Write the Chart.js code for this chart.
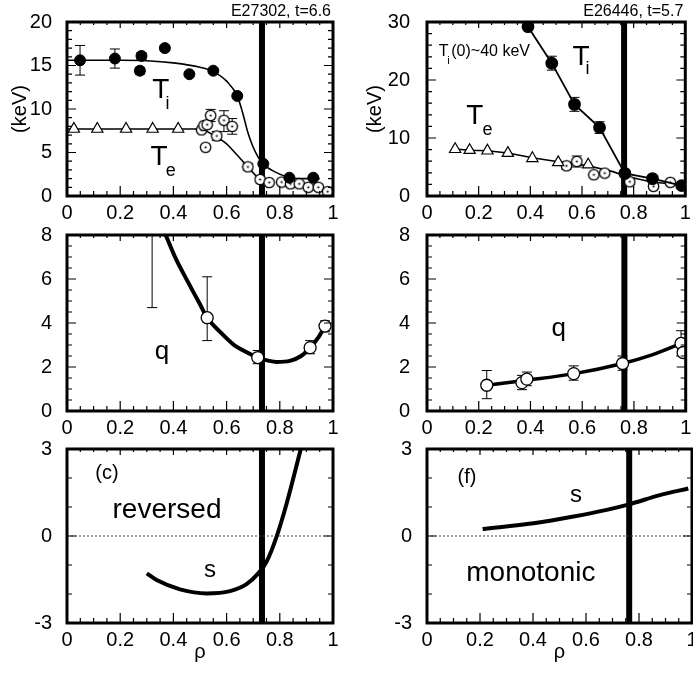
<!DOCTYPE html>
<html>
<head>
<meta charset="utf-8">
<script src="https://cdn.jsdelivr.net/npm/chart.js@4.4.1/dist/chart.umd.min.js"></script>
<style>
  body { margin: 0; background: #fff; }
  canvas { position: absolute; }
</style>
</head>
<body>
<canvas id="panelA" width="345" height="232" style="left:0;top:0"></canvas>
<canvas id="panelB" width="348" height="232" style="left:345px;top:0"></canvas>
<canvas id="panelC" width="345" height="218" style="left:0;top:222px"></canvas>
<canvas id="panelD" width="348" height="218" style="left:345px;top:222px"></canvas>
<canvas id="panelE" width="345" height="242" style="left:0;top:432px"></canvas>
<canvas id="panelF" width="348" height="242" style="left:345px;top:432px"></canvas>
<script>
const FONT = '"Liberation Sans", Arial, Helvetica, sans-serif';
Chart.defaults.font.family = FONT;
Chart.defaults.color = '#000';

// tick labels
const rhoTicks = [0, 0.2, 0.4, 0.6, 0.8, 1];
const tempTicksA = [0, 5, 10, 15, 20];
const tempTicksB = [0, 10, 20, 30];
const qTicks = [0, 2, 4, 6, 8];
const shearTicks = [-3, 0, 3];

// position of the thick vertical marker (ITB foot)
const markLeft = 0.733;
const markRight = 0.763;

// (a) E27302, t=6.6
const aTiRho = [0.049, 0.18, 0.28, 0.274, 0.368, 0.46, 0.55, 0.64, 0.738, 0.836, 0.926];
const aTiVal = [15.6, 15.8, 16.1, 14.4, 17.0, 14.0, 14.4, 11.5, 3.7, 2.1, 2.1];
const aTiLo = [13.9, 14.7, 15.7, 14.0, 16.7, 14.0, 14.4, 11.5, 3.7, 2.1, 2.1];
const aTiHi = [17.3, 16.9, 16.5, 14.8, 17.3, 14.0, 14.4, 11.5, 3.7, 2.1, 2.1];
const aTiFitRho = [0, 0.2, 0.3, 0.4, 0.5, 0.55, 0.6, 0.64, 0.66, 0.68, 0.7, 0.72, 0.74, 0.78, 0.84, 0.9, 0.95];
const aTiFitVal = [15.6, 15.6, 15.55, 15.3, 14.8, 14.3, 13.2, 11.5, 9.6, 7.3, 5.6, 4.4, 3.6, 2.8, 2.1, 2.0, 2.0];
const aTeTriRho = [0.026, 0.114, 0.222, 0.322, 0.418];
const aTeTriVal = [7.7, 7.7, 7.7, 7.7, 7.7];
const aTeRho = [0.506, 0.515, 0.527, 0.521, 0.54, 0.563, 0.59, 0.621, 0.68, 0.726, 0.76, 0.807, 0.84, 0.873, 0.907, 0.945, 0.98];
const aTeVal = [7.6, 8.1, 8.2, 5.6, 9.25, 6.9, 8.7, 8.0, 3.35, 1.9, 1.55, 1.6, 1.4, 1.4, 1.0, 1.0, 0.5];
const aTeLo = [7.6, 8.1, 8.2, 5.6, 8.55, 6.4, 7.4, 7.1, 3.0, 1.9, 1.55, 1.6, 1.4, 1.4, 1.0, 1.0, 0.5];
const aTeHi = [7.6, 8.1, 8.2, 5.6, 9.95, 7.4, 9.8, 8.9, 3.7, 1.9, 1.55, 1.6, 1.4, 1.4, 1.0, 1.0, 0.5];
const aTeFitRho = [0, 0.2, 0.4, 0.5, 0.55, 0.6, 0.625, 0.68, 0.726, 0.76];
const aTeFitVal = [7.7, 7.7, 7.7, 7.7, 7.0, 6.0, 5.2, 3.35, 1.9, 1.6];

// (b) E26446, t=5.7
const bTiRho = [0.391, 0.483, 0.571, 0.668, 0.766, 0.873, 0.986];
const bTiVal = [29.2, 22.9, 15.8, 11.8, 3.9, 3.0, 1.8];
const bTiLo = [28.7, 21.7, 14.6, 10.8, 3.4, 2.5, 1.8];
const bTiHi = [29.7, 24.1, 17.0, 12.8, 4.4, 3.5, 1.8];
const bTeTriRho = [0.109, 0.165, 0.234, 0.313, 0.408, 0.508, 0.624];
const bTeTriVal = [8.06, 7.9, 7.8, 7.4, 6.5, 5.8, 5.4];
const bTeRho = [0.54, 0.58, 0.646, 0.688, 0.785, 0.877, 0.942];
const bTeVal = [5.2, 5.95, 3.66, 3.95, 2.45, 1.66, 2.35];
const bTeLo = [4.6, 5.0, 3.66, 3.95, 2.0, 1.66, 2.35];
const bTeHi = [5.8, 6.9, 3.66, 3.95, 2.9, 1.66, 2.35];
const bTeFitRho = [0.109, 0.165, 0.234, 0.313, 0.408, 0.508, 0.624, 0.72, 0.77, 0.87, 0.99];
const bTeFitVal = [8.1, 7.9, 7.8, 7.4, 6.6, 5.9, 5.2, 4.2, 3.4, 2.4, 1.9];

// q, reversed shear case
const cQRho = [0.527, 0.717, 0.914, 0.97];
const cQVal = [4.24, 2.43, 2.88, 3.86];
const cQLo = [3.2, 2.15, 2.6, 3.6];
const cQHi = [6.1, 2.75, 3.2, 4.1];
const cQBarRho = [0.32];
const cQBarLo = [4.7];
const cQBarHi = [8];
const cQFitRho = [0.371, 0.41, 0.45, 0.5, 0.527, 0.575, 0.625, 0.67, 0.717, 0.76, 0.788, 0.838, 0.88, 0.914, 0.945, 0.97];
const cQFitVal = [8, 6.9, 5.97, 4.85, 4.24, 3.6, 3.03, 2.7, 2.43, 2.28, 2.23, 2.28, 2.5, 2.88, 3.35, 3.86];

// q, monotonic case
const dQRho = [0.231, 0.367, 0.386, 0.567, 0.756, 0.982, 0.99];
const dQVal = [1.17, 1.29, 1.45, 1.7, 2.16, 3.07, 2.66];
const dQLo = [0.56, 0.97, 1.15, 1.4, 1.85, 2.5, 2.66];
const dQHi = [1.84, 1.62, 1.77, 2.05, 2.5, 3.65, 2.66];
const dQFitRho = [0.231, 0.37, 0.57, 0.756, 0.87, 1.0];
const dQFitVal = [1.17, 1.38, 1.7, 2.16, 2.55, 3.15];

// (c) / (f) magnetic shear s
const eSRho = [0.3, 0.337, 0.425, 0.525, 0.613, 0.675, 0.719, 0.75, 0.788, 0.826, 0.876, 0.9];
const eSVal = [-1.29, -1.52, -1.84, -1.98, -1.9, -1.66, -1.29, -0.89, -0.02, 1.13, 2.9, 3.8];
const fSRho = [0.21, 0.402, 0.553, 0.678, 0.766, 0.879, 0.986];
const fSVal = [0.24, 0.44, 0.67, 0.9, 1.1, 1.41, 1.64];
const zeroRho = [0, 1];
const zeroVal = [0, 0];

function pts(xs, ys) { return xs.map((x, i) => ({ x: x, y: ys[i] })); }

function dotCircle() {
  const c = document.createElement('canvas');
  c.width = 13; c.height = 13;
  const g = c.getContext('2d');
  g.beginPath(); g.arc(6.5, 6.5, 5.2, 0, Math.PI * 2);
  g.fillStyle = '#fff'; g.fill();
  g.lineWidth = 1.3; g.strokeStyle = '#000'; g.stroke();
  g.beginPath(); g.arc(6.5, 6.5, 1.1, 0, Math.PI * 2);
  g.fillStyle = '#000'; g.fill();
  return c;
}
const dotImg = dotCircle();

function markLine(rho, ticks) {
  return { data: pts([rho, rho], [ticks[0], ticks[ticks.length - 1]]), showLine: true,
    borderColor: '#000', borderWidth: 6, pointRadius: 0, order: 10 };
}
function curve(xs, ys, w, smooth) {
  return { data: pts(xs, ys), showLine: true, borderColor: '#000', borderWidth: w,
    pointRadius: 0, cubicInterpolationMode: smooth ? 'monotone' : 'default', tension: 0, order: 5 };
}
function zeroLine() {
  return { data: pts(zeroRho, zeroVal), showLine: true, borderColor: '#444', borderWidth: 1,
    borderDash: [2, 2], pointRadius: 0, order: 9 };
}
const filled = { pointStyle: 'circle', pointRadius: 5.5, pointBackgroundColor: '#000', pointBorderColor: '#000', order: 0 };
const openDot = { pointStyle: dotImg, pointRadius: 6, order: 1 };
const openCircle = { pointStyle: 'circle', pointRadius: 6, pointBackgroundColor: '#fff', pointBorderColor: '#000', pointBorderWidth: 1.3, order: 1 };
const triangle = { pointStyle: 'triangle', pointRadius: 6.5, pointBackgroundColor: '#fff', pointBorderColor: '#000', pointBorderWidth: 1.2, order: 1 };

function tickSet(min, max, step) {
  const out = [];
  const n = Math.round((max - min) / step);
  for (let i = 0; i <= n; i++) out.push(min + i * step);
  return out;
}
function isMajor(v, major) { return Math.abs(v / major - Math.round(v / major)) < 1e-6; }

const panelDecor = {
  id: 'panelDecor',
  beforeDatasetsDraw(chart) {
    const { ctx, chartArea: a } = chart;
    const xs = chart.scales.x, ys = chart.scales.y;
    ctx.save();
    ctx.beginPath(); ctx.rect(a.left, a.top, a.right - a.left, a.bottom - a.top); ctx.clip();
    ctx.strokeStyle = '#000'; ctx.lineWidth = 1;
    chart.data.datasets.forEach(ds => {
      if (!ds.errLo) return;
      ds.data.forEach((p, j) => {
        const lo = ds.errLo[j], hi = ds.errHi[j];
        if (lo === hi) return;
        const x = xs.getPixelForValue(p.x);
        const y1 = ys.getPixelForValue(lo), y2 = ys.getPixelForValue(hi);
        ctx.beginPath();
        ctx.moveTo(x, y1); ctx.lineTo(x, y2);
        ctx.moveTo(x - 5, y1); ctx.lineTo(x + 5, y1);
        ctx.moveTo(x - 5, y2); ctx.lineTo(x + 5, y2);
        ctx.stroke();
      });
    });
    ctx.restore();
  },
  afterDraw(chart, args, opts) {
    const { ctx, chartArea: a } = chart;
    const xs = chart.scales.x, ys = chart.scales.y;
    ctx.save();
    ctx.strokeStyle = '#000';
    ctx.lineWidth = 1.2;
    ctx.beginPath();
    tickSet(0, 1, 0.05).forEach(v => {
      const px = xs.getPixelForValue(v);
      const len = isMajor(v, 0.2) ? 10 : 5;
      ctx.moveTo(px, a.bottom); ctx.lineTo(px, a.bottom - len);
      ctx.moveTo(px, a.top); ctx.lineTo(px, a.top + len * 0.6);
    });
    tickSet(ys.min, ys.max, opts.yMinor).forEach(v => {
      const py = ys.getPixelForValue(v);
      const len = isMajor(v - ys.min, opts.yMajor) ? 9 : 5;
      ctx.moveTo(a.left, py); ctx.lineTo(a.left + len, py);
      ctx.moveTo(a.right, py); ctx.lineTo(a.right - len, py);
    });
    ctx.stroke();
    ctx.lineWidth = 3;
    ctx.strokeRect(a.left, a.top, a.right - a.left, a.bottom - a.top);

    ctx.fillStyle = '#000';
    ctx.textBaseline = 'middle';
    (opts.texts || []).forEach(t => {
      ctx.font = t.size + 'px ' + FONT;
      ctx.textAlign = t.align || 'center';
      ctx.fillText(t.t, xs.getPixelForValue(t.x), ys.getPixelForValue(t.y));
    });
    if (opts.title) {
      ctx.font = '16px ' + FONT;
      ctx.textAlign = 'right';
      ctx.textBaseline = 'alphabetic';
      ctx.fillText(opts.title, a.right - 2, 16);
    }
    ctx.restore();
  }
};

function panel(id, cfg) {
  const yT = cfg.yTicks;
  return new Chart(document.getElementById(id), {
    type: 'scatter',
    data: { datasets: cfg.datasets },
    options: {
      responsive: false,
      animation: false,
      events: [],
      layout: { padding: { top: cfg.top, right: cfg.right, left: 0, bottom: 0 } },
      plugins: {
        legend: { display: false },
        tooltip: { enabled: false },
        panelDecor: cfg.decor
      },
      scales: {
        x: {
          type: 'linear', min: rhoTicks[0], max: rhoTicks[rhoTicks.length - 1],
          grid: { display: false }, border: { display: false },
          ticks: {
            stepSize: rhoTicks[1] - rhoTicks[0], padding: -3, font: { size: 20 }, maxRotation: 0, autoSkip: false,
            callback: v => String(Number(v.toFixed(2)))
          },
          title: { display: !!cfg.xTitle, text: 'ρ', font: { size: 20 }, padding: { top: 0, bottom: 10 } },
          afterFit: s => { s.height = cfg.xHeight; s.paddingLeft = 0; s.paddingRight = 0; }
        },
        y: {
          type: 'linear', min: yT[0], max: yT[yT.length - 1],
          grid: { display: false }, border: { display: false },
          ticks: { stepSize: yT[1] - yT[0], padding: cfg.yPad, font: { size: 20 } },
          title: { display: !!cfg.yTitle, text: '(keV)', font: { size: 20 }, padding: { top: cfg.yTitlePad || 0, bottom: 0 } },
          afterFit: s => { s.width = cfg.yWidth; s.paddingTop = 0; s.paddingBottom = 0; }
        }
      }
    },
    plugins: [panelDecor]
  });
}

panel('panelA', {
  top: 22, right: 12, xHeight: 36, yWidth: 67, yPad: 7, yTitle: true, yTitlePad: 8,
  yTicks: tempTicksA,
  decor: {
    yMinor: 1, yMajor: 5, title: 'E27302, t=6.6',
    texts: [
      { t: 'T', x: 0.353, y: 12.1, size: 28 }, { t: 'i', x: 0.378, y: 10.6, size: 18 },
      { t: 'T', x: 0.346, y: 4.4, size: 28 }, { t: 'e', x: 0.39, y: 2.9, size: 18 }
    ]
  },
  datasets: [
    markLine(markLeft, tempTicksA),
    curve(aTiFitRho, aTiFitVal, 1.6, true),
    curve(aTeFitRho, aTeFitVal, 1.6, true),
    Object.assign({ data: pts(aTeTriRho, aTeTriVal) }, triangle),
    Object.assign({ data: pts(aTeRho, aTeVal), errLo: aTeLo, errHi: aTeHi }, openDot),
    Object.assign({ data: pts(aTiRho, aTiVal), errLo: aTiLo, errHi: aTiHi }, filled)
  ]
});

panel('panelB', {
  top: 22, right: 1, xHeight: 36, yWidth: 82, yPad: 9, yTitle: true, yTitlePad: 18,
  yTicks: tempTicksB,
  decor: {
    yMinor: 2, yMajor: 10, title: 'E26446, t=5.7',
    texts: [
      { t: 'T', x: 0.596, y: 24.0, size: 28 }, { t: 'i', x: 0.621, y: 21.9, size: 18 },
      { t: 'T', x: 0.185, y: 13.7, size: 28 }, { t: 'e', x: 0.234, y: 11.3, size: 18 },
      { t: 'T', x: 0.064, y: 24.9, size: 16 }, { t: 'i', x: 0.083, y: 23.2, size: 11 },
      { t: '(0)~40 keV', x: 0.094, y: 24.9, size: 16, align: 'left' }
    ]
  },
  datasets: [
    markLine(markRight, tempTicksB),
    curve(bTeFitRho, bTeFitVal, 1.6, false),
    Object.assign({ data: pts(bTeTriRho, bTeTriVal) }, triangle),
    Object.assign({ data: pts(bTeRho, bTeVal), errLo: bTeLo, errHi: bTeHi }, openDot),
    Object.assign({ data: pts(bTiRho, bTiVal), errLo: bTiLo, errHi: bTiHi, showLine: true, borderColor: '#000', borderWidth: 1.8 }, filled)
  ]
});

panel('panelC', {
  top: 13, right: 12, xHeight: 29, yWidth: 67, yPad: 7,
  yTicks: qTicks,
  decor: { yMinor: 0.5, yMajor: 2, texts: [{ t: 'q', x: 0.357, y: 2.7, size: 26 }] },
  datasets: [
    markLine(markLeft, qTicks),
    curve(cQFitRho, cQFitVal, 4, true),
    { data: pts(cQBarRho, cQBarLo), errLo: cQBarLo, errHi: cQBarHi, pointRadius: 0, order: 2 },
    Object.assign({ data: pts(cQRho, cQVal), errLo: cQLo, errHi: cQHi }, openCircle)
  ]
});

panel('panelD', {
  top: 13, right: 1, xHeight: 29, yWidth: 82, yPad: 9,
  yTicks: qTicks,
  decor: { yMinor: 0.5, yMajor: 2, texts: [{ t: 'q', x: 0.509, y: 3.74, size: 26 }] },
  datasets: [
    markLine(markRight, qTicks),
    curve(dQFitRho, dQFitVal, 3.5, true),
    Object.assign({ data: pts(dQRho, dQVal), errLo: dQLo, errHi: dQHi }, openCircle)
  ]
});

panel('panelE', {
  top: 17, right: 12, xHeight: 51, yWidth: 67, yPad: 7, xTitle: true,
  yTicks: shearTicks,
  decor: {
    yMinor: 1, yMajor: 3,
    texts: [
      { t: '(c)', x: 0.15, y: 2.14, size: 20 },
      { t: 'reversed', x: 0.376, y: 0.9, size: 28 },
      { t: 's', x: 0.538, y: -1.2, size: 24 }
    ]
  },
  datasets: [
    markLine(markLeft, shearTicks),
    zeroLine(),
    curve(eSRho, eSVal, 4, true)
  ]
});

panel('panelF', {
  top: 17, right: 1, xHeight: 51, yWidth: 82, yPad: 7, xTitle: true,
  yTicks: shearTicks,
  decor: {
    yMinor: 1, yMajor: 3,
    texts: [
      { t: '(f)', x: 0.151, y: 2.03, size: 20 },
      { t: 's', x: 0.562, y: 1.41, size: 24 },
      { t: 'monotonic', x: 0.392, y: -1.28, size: 28 }
    ]
  },
  datasets: [
    markLine(markRight, shearTicks),
    zeroLine(),
    curve(fSRho, fSVal, 4, true)
  ]
});
</script>
</body>
</html>
